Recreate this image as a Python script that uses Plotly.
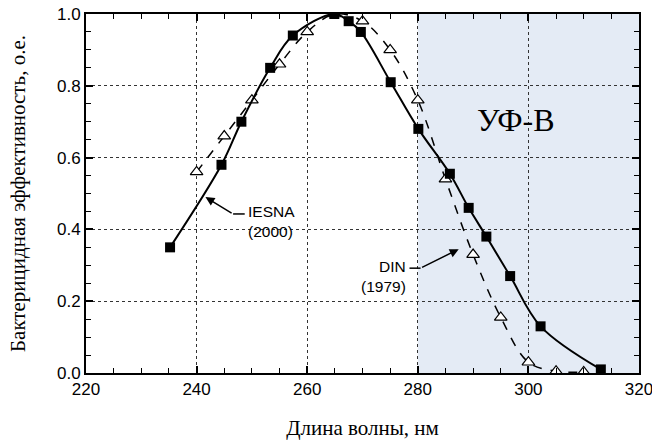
import plotly.graph_objects as go

# Data
iesna_x = [235.2, 244.5, 248.1, 253.3, 257.4, 264.9, 267.5, 269.7, 275.1, 280.1, 285.8, 289.2, 292.4, 296.7, 302.2, 313.1]
iesna_y = [0.35, 0.58, 0.70, 0.85, 0.94, 1.00, 0.98, 0.95, 0.81, 0.68, 0.555, 0.46, 0.38, 0.27, 0.13, 0.01]

din_x = [240, 245, 250, 255, 260, 265, 270, 275, 280, 285, 290, 295, 300, 305, 310]
din_y = [0.56, 0.66, 0.76, 0.86, 0.95, 1.00, 0.98, 0.90, 0.76, 0.54, 0.33, 0.155, 0.03, 0.005, 0.003]

uvb_range = [280, 320]

fig = go.Figure()

fig.add_shape(type="rect", xref="x", yref="y", x0=uvb_range[0], x1=uvb_range[1], y0=0, y1=1,
              fillcolor="#e4ebf5", line_width=0, layer="below")

fig.add_trace(go.Scatter(x=din_x, y=din_y, mode="lines+markers", line_shape="spline",
                         line=dict(color="black", width=1.5, dash="dash"),
                         marker=dict(symbol="triangle-up", size=11, color="white",
                                     line=dict(color="black", width=1.2)),
                         showlegend=False, name="DIN (1979)"))
fig.add_trace(go.Scatter(x=iesna_x, y=iesna_y, mode="lines+markers", line_shape="spline",
                         line=dict(color="black", width=2),
                         marker=dict(symbol="square", size=10, color="black"),
                         showlegend=False, name="IESNA (2000)"))

ann_font = dict(family="Liberation Sans, Arial", size=15.5, color="black")
# IESNA label
fig.add_shape(type="line", xref="x", yref="y", x0=246.6, x1=248.7, y0=0.443, y1=0.443,
              line=dict(color="black", width=1.5))
fig.add_annotation(x=241.6, y=0.49, ax=246.6, ay=0.443, axref="x", ayref="y",
                   showarrow=True, arrowhead=2, arrowsize=1.2, arrowwidth=1.5,
                   arrowcolor="black", text="")
fig.add_annotation(x=249.0, y=0.423, text="IESNA<br>(2000)", showarrow=False,
                   xanchor="left", yanchor="middle", font=ann_font, align="left")
# DIN label
fig.add_shape(type="line", xref="x", yref="y", x0=278.5, x1=280.5, y0=0.292, y1=0.292,
              line=dict(color="black", width=1.5))
fig.add_annotation(x=287.4, y=0.345, ax=280.5, ay=0.292, axref="x", ayref="y",
                   showarrow=True, arrowhead=2, arrowsize=1.2, arrowwidth=1.5,
                   arrowcolor="black", text="")
fig.add_annotation(x=278.3, y=0.27, text="DIN<br>(1979)", showarrow=False,
                   xanchor="right", yanchor="middle", font=ann_font, align="right")
# UV-B label
fig.add_annotation(x=297.7, y=0.705, text="УФ-В", showarrow=False,
                   font=dict(family="Liberation Serif, Times New Roman", size=32, color="black"))

axis_common = dict(showline=True, linecolor="black", linewidth=2, mirror="ticks",
                   ticks="inside", ticklen=7, tickwidth=1.5, tickcolor="black",
                   showgrid=True, gridcolor="#333333", griddash="dot", gridwidth=1,
                   zeroline=False, automargin=False, ticklabeloverflow="allow",
                   tickfont=dict(family="Liberation Sans, Arial", size=17, color="black"))

fig.update_xaxes(range=[220, 320], tickvals=[220, 240, 260, 280, 300, 320],
                 minor=dict(dtick=5, ticks="inside", ticklen=5, tickwidth=1.2, tickcolor="black", showgrid=False),
                 title=dict(text="Длина волны, нм", standoff=22,
                            font=dict(family="Liberation Serif, Times New Roman", size=21, color="black")),
                 **axis_common)
fig.update_yaxes(range=[0, 1], tickvals=[0, 0.2, 0.4, 0.6, 0.8, 1.0], tickformat=".1f",
                 minor=dict(dtick=0.05, ticks="inside", ticklen=5, tickwidth=1.2, tickcolor="black", showgrid=False),
                 title=dict(text="Бактерицидная эффективность, о.е.", standoff=26,
                            font=dict(family="Liberation Serif, Times New Roman", size=21, color="black")),
                 **axis_common)

fig.update_layout(width=652, height=444, margin=dict(l=86, r=13, t=14, b=71),
                  plot_bgcolor="white", paper_bgcolor="white")

fig.write_html("out.html")
